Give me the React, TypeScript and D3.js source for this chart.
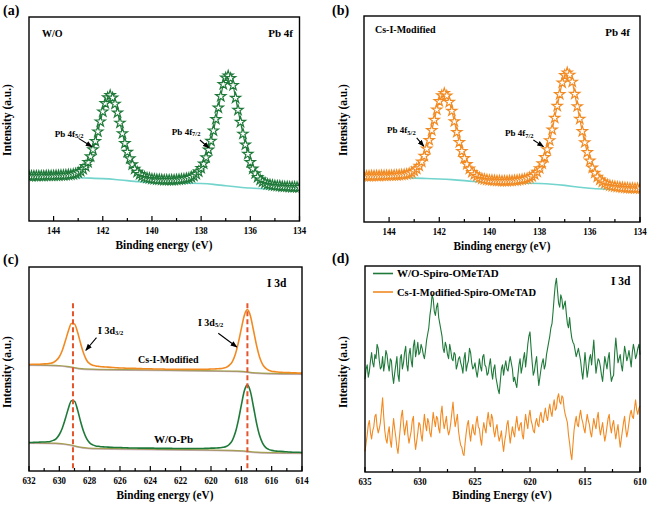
import React from "react";
import * as d3 from "d3";

// ---------------- data ----------------
// Pb 4f spectra, 145.0 -> 134.0 eV, step 0.1 eV
const pbEnergy: number[] = d3.range(111).map((i) => +(145 - i * 0.1).toFixed(1));
const pbWO: number[] = [
  22.0, 22.0, 22.1, 22.1, 22.1, 22.1, 22.1, 22.2, 22.2, 22.2, 22.2,
  22.3, 22.3, 22.4, 22.4, 22.5, 22.6, 22.7, 22.9, 23.2, 23.7,
  24.4, 25.4, 26.8, 28.8, 31.6, 35.0, 39.1, 43.8, 48.7, 53.6,
  57.7, 60.5, 61.6, 60.4, 57.4, 53.1, 48.1, 42.9, 38.1, 33.8,
  30.6, 27.7, 25.5, 24.0, 22.9, 22.1, 21.5, 21.1, 20.9, 20.6,
  20.5, 20.3, 20.3, 20.2, 20.1, 20.1, 20.1, 20.1, 20.1, 20.2,
  20.3, 20.4, 20.6, 20.8, 21.0, 21.5, 22.1, 23.0, 24.2, 25.9,
  28.1, 31.1, 34.9, 39.2, 44.3, 49.9, 55.5, 61.1, 67.0, 70.2,
  71.2, 70.0, 66.5, 60.3, 54.4, 48.5, 42.7, 37.4, 32.8, 28.8,
  25.6, 23.3, 21.5, 20.2, 19.3, 18.6, 18.0, 17.8, 17.5, 17.3,
  17.2, 17.1, 16.9, 16.8, 16.8, 16.7, 16.6, 16.6, 16.5, 16.5,
];
const pbCsI: number[] = [
  22.3, 22.3, 22.3, 22.4, 22.4, 22.4, 22.4, 22.5, 22.5, 22.5, 22.6,
  22.6, 22.7, 22.7, 22.8, 22.9, 23.0, 23.2, 23.5, 24.0, 24.8,
  25.8, 27.2, 29.2, 32.0, 35.5, 39.7, 44.5, 49.5, 54.5, 58.6,
  61.4, 62.5, 61.3, 58.2, 53.9, 48.8, 43.6, 38.7, 34.4, 30.9,
  28.0, 25.8, 24.2, 23.1, 22.3, 21.5, 21.0, 20.7, 20.5, 20.3,
  20.2, 20.1, 20.0, 20.0, 19.9, 19.9, 19.9, 20.0, 20.0, 20.1,
  20.2, 20.4, 20.6, 20.8, 21.1, 21.6, 22.2, 23.1, 24.3, 26.0,
  28.4, 31.4, 35.2, 39.6, 44.8, 50.5, 56.3, 62.0, 67.6, 71.2,
  72.5, 71.4, 68.0, 62.1, 56.1, 50.0, 44.0, 38.6, 33.8, 29.7,
  26.3, 23.8, 21.9, 20.5, 19.5, 18.7, 18.1, 17.7, 17.4, 17.2,
  17.0, 16.9, 16.7, 16.6, 16.5, 16.4, 16.4, 16.3, 16.3, 16.2,
];
const pbBgEnergy: number[] = [
  145, 144.5, 144, 143.5, 143, 142.5, 142, 141.5, 141, 140.5, 140, 139.5,
  139, 138.5, 138, 137.5, 137, 136.5, 136, 135.5, 135, 134.5, 134,
];
const pbBgWO: number[] = [
  21.6, 21.6, 21.5, 21.4, 21.2, 21.0, 20.8, 20.4, 19.8, 19.2, 18.8, 18.6,
  18.5, 18.5, 18.4, 18.0, 17.3, 16.7, 16.1, 15.8, 15.7, 15.7, 15.7,
];
const pbBgCsI: number[] = [
  21.9, 21.9, 21.8, 21.6, 21.3, 21.1, 20.9, 20.6, 20.1, 19.5, 19.1, 18.9,
  18.8, 18.8, 18.7, 18.4, 17.8, 17.0, 16.3, 16.0, 15.9, 15.8, 15.8,
];
const pbMajorTicks: number[] = [144, 142, 140, 138, 136, 134];
const pbMinorTicks: number[] = [143, 141, 139, 137, 135];

// I 3d (Pb film), 632 -> 614 eV, step 0.2 eV
const i3dEnergy: number[] = d3.range(91).map((i) => +(632 - i * 0.2).toFixed(1));
const i3dCsI: number[] = [
  52.2, 52.3, 52.3, 52.3, 52.4, 52.5, 52.6, 52.8, 53.2, 54.2,
  56.0, 59.2, 63.8, 68.8, 72.3, 72.1, 68.1, 62.6, 57.7, 54.3,
  52.6, 51.8, 51.5, 51.3, 51.1, 51.0, 50.9, 50.8, 50.7, 50.6,
  50.5, 50.5, 50.4, 50.4, 50.3, 50.3, 50.2, 50.2, 50.1, 50.1,
  50.1, 50.0, 50.0, 50.0, 50.0, 49.9, 49.9, 49.9, 49.9, 49.9,
  49.9, 49.9, 49.8, 49.9, 49.9, 49.9, 49.9, 49.9, 49.9, 49.9,
  50.0, 50.0, 50.1, 50.2, 50.4, 50.8, 51.8, 53.5, 57.1, 62.8,
  69.8, 76.4, 79.1, 76.0, 69.0, 61.7, 55.9, 52.3, 50.4, 49.4,
  48.9, 48.7, 48.5, 48.4, 48.3, 48.3, 48.2, 48.1, 48.1, 48.0,
  48.0,
];
const i3dWO: number[] = [
  14.0, 14.0, 14.1, 14.1, 14.2, 14.2, 14.3, 14.5, 15.0, 15.9,
  17.9, 21.1, 25.7, 30.8, 34.4, 34.2, 30.0, 24.3, 19.4, 15.9,
  13.8, 12.8, 12.3, 12.1, 11.9, 11.8, 11.7, 11.6, 11.5, 11.5,
  11.5, 11.4, 11.4, 11.3, 11.3, 11.3, 11.2, 11.2, 11.2, 11.2,
  11.2, 11.2, 11.1, 11.1, 11.1, 11.1, 11.1, 11.1, 11.0, 11.0,
  11.0, 11.0, 11.0, 11.0, 11.0, 11.0, 11.0, 11.0, 11.1, 11.1,
  11.2, 11.2, 11.3, 11.4, 11.6, 12.0, 13.0, 14.9, 18.7, 24.7,
  32.3, 39.3, 42.2, 38.9, 31.5, 23.6, 17.5, 13.7, 11.6, 10.6,
  10.1, 9.8, 9.7, 9.6, 9.5, 9.4, 9.3, 9.2, 9.2, 9.2,
  9.1,
];
const i3dBgEnergy: number[] = [632, 630, 629.5, 629, 628.5, 628, 624, 620, 618, 617.5, 617, 616, 614];
const i3dBgCsI: number[] = [52.0, 51.8, 51.3, 50.6, 50.0, 49.8, 49.5, 49.2, 48.9, 48.4, 48.0, 47.7, 47.6];
const i3dBgWO: number[] = [13.8, 13.6, 13.1, 12.3, 11.5, 11.0, 10.6, 10.3, 10.0, 9.5, 9.1, 8.9, 8.8];
const i3dPeaks: number[] = [629.1, 617.6];
const i3dMajorTicks: number[] = [632, 630, 628, 626, 624, 622, 620, 618, 616, 614];
const i3dMinorTicks: number[] = [631, 629, 627, 625, 623, 621, 619, 617, 615];

// I 3d (Spiro-OMeTAD), 635 -> 610 eV, step 0.1 eV
const spiroEnergy: number[] = d3.range(251).map((i) => +(635 - i * 0.1).toFixed(1));
const spiroWO: number[] = [
  45, 50, 52, 46, 49, 54, 58, 53, 51, 57, 55, 62, 60, 54, 50, 51, 56, 49, 53, 59,
  57, 52, 49, 55, 54, 47, 43, 48, 52, 56, 47, 44, 55, 57, 50, 53, 58, 61, 52, 49,
  57, 60, 54, 51, 61, 64, 56, 59, 63, 57, 58, 62, 60, 57, 55, 59, 64, 67, 70, 76,
  80, 86, 84, 78, 76, 80, 82, 75, 72, 69, 66, 60, 58, 63, 61, 57, 55, 62, 59, 55,
  54, 58, 57, 50, 52, 55, 56, 53, 51, 48, 55, 58, 49, 52, 54, 60, 58, 53, 50, 51,
  53, 49, 46, 50, 55, 51, 49, 56, 57, 52, 51, 47, 48, 52, 55, 49, 45, 50, 52, 46,
  43, 40, 38, 44, 50, 52, 47, 51, 54, 50, 49, 53, 56, 53, 50, 44, 46, 43, 41, 47,
  52, 55, 48, 51, 55, 58, 51, 56, 62, 66, 68, 60, 53, 47, 49, 53, 56, 48, 42, 46,
  50, 53, 55, 50, 52, 57, 60, 63, 66, 70, 72, 78, 85, 91, 94, 88, 82, 80, 86, 84,
  79, 81, 83, 77, 72, 70, 75, 69, 65, 63, 62, 59, 56, 58, 60, 57, 54, 49, 45, 51,
  58, 52, 46, 50, 55, 57, 52, 58, 64, 55, 48, 52, 55, 54, 51, 47, 44, 50, 56, 53,
  50, 55, 58, 49, 44, 46, 47, 58, 65, 59, 53, 55, 57, 52, 49, 55, 61, 58, 54, 56,
  59, 55, 51, 58, 62, 59, 55, 57, 60, 62, 57,
];
const spiroCsI: number[] = [
  10, 14, 18, 23, 25, 19, 16, 20, 22, 27, 28, 22, 19, 21, 24, 30, 36, 27, 20, 16,
  14, 19, 22, 15, 12, 20, 26, 21, 17, 12, 9, 15, 21, 27, 30, 23, 18, 22, 25, 18,
  14, 17, 20, 25, 27, 16, 11, 15, 19, 24, 23, 18, 15, 22, 28, 23, 20, 26, 24, 19,
  17, 23, 29, 25, 22, 27, 26, 21, 19, 28, 32, 25, 21, 24, 27, 21, 18, 20, 24, 29,
  34, 27, 22, 25, 28, 20, 16, 13, 12, 9, 8, 14, 19, 23, 25, 19, 15, 20, 23, 19,
  18, 24, 27, 22, 21, 16, 13, 20, 24, 21, 19, 25, 29, 24, 22, 28, 26, 20, 17, 21,
  23, 18, 15, 17, 20, 14, 10, 15, 18, 23, 25, 19, 14, 18, 22, 19, 17, 23, 27, 22,
  20, 23, 24, 18, 16, 23, 28, 24, 21, 27, 30, 25, 23, 20, 19, 24, 26, 23, 22, 27,
  29, 25, 24, 28, 31, 27, 25, 30, 33, 29, 27, 32, 35, 30, 31, 36, 38, 34, 33, 37,
  36, 31, 28, 26, 24, 18, 14, 9, 6, 13, 20, 24, 27, 23, 22, 27, 30, 26, 24, 21,
  19, 24, 28, 25, 23, 19, 17, 22, 26, 23, 21, 26, 29, 22, 18, 21, 24, 19, 15, 18,
  22, 26, 28, 22, 19, 23, 25, 20, 16, 20, 23, 17, 12, 16, 20, 24, 27, 21, 17, 20,
  24, 28, 30, 27, 26, 31, 35, 30, 28, 31, 32,
];
const spiroMajorTicks: number[] = [635, 630, 625, 620, 615, 610];
const spiroMinorTicks: number[] = [632.5, 627.5, 622.5, 617.5, 612.5];

// ---------------- styling ----------------
const FONT = "'Liberation Serif','Times New Roman',Times,serif";
const GREEN = "#1f7a3a";
const ORANGE = "#f28a22";
const CYAN = "#72d4cc";
const OLIVE = "#a2a24a";
const MAUVE = "#b286a8";
const RED = "#e4552c";

type TP = {
  x: number;
  y: number;
  size: number;
  sx?: number;
  anchor?: string;
  rot?: boolean;
  children: React.ReactNode;
};
function T({ x, y, size, sx = 1, anchor = "start", rot = false, children }: TP) {
  return (
    <text
      transform={`translate(${x},${y})${rot ? " rotate(-90)" : ""} scale(${sx},1)`}
      fontSize={size}
      fontWeight="bold"
      fontFamily={FONT}
      textAnchor={anchor as any}
      fill="#000"
    >
      {children}
    </text>
  );
}

function Frame({ x, y }: { x: any; y: any }) {
  const [x0, x1] = x.range();
  const [y0, y1] = y.range();
  return (
    <rect x={x0} y={y1} width={x1 - x0} height={y0 - y1} fill="none" stroke="#000" strokeWidth={1.4} />
  );
}

function XAxis({ x, y, majors, minors }: { x: any; y: any; majors: number[]; minors: number[] }) {
  const y0 = y.range()[0];
  return (
    <g>
      {majors.map((v) => (
        <line key={"M" + v} x1={x(v)} x2={x(v)} y1={y0} y2={y0 - 5} stroke="#000" strokeWidth={1.2} />
      ))}
      {minors.map((v) => (
        <line key={"m" + v} x1={x(v)} x2={x(v)} y1={y0} y2={y0 - 3} stroke="#000" strokeWidth={1.2} />
      ))}
      {majors.map((v) => (
        <T key={"L" + v} x={x(v)} y={y0 + 12.5} size={10} sx={0.88} anchor="middle">
          {String(v)}
        </T>
      ))}
    </g>
  );
}

function Arrow({ x1, y1, x2, y2 }: { x1: number; y1: number; x2: number; y2: number }) {
  return <line x1={x1} y1={y1} x2={x2} y2={y2} stroke="#000" strokeWidth={1.1} markerEnd="url(#arrowHead)" />;
}

const starD = d3.symbol(d3.symbolStar, 32)() as string;

function PbPanel({
  x, y, values, bg, color, id,
}: { x: any; y: any; values: number[]; bg: number[]; color: string; id: string }) {
  const line = d3.line<number>().x((_, i) => x(pbEnergy[i])).y((d) => y(d)).curve(d3.curveMonotoneX);
  const bgLine = d3.line<number>().x((_, i) => x(pbBgEnergy[i])).y((d) => y(d)).curve(d3.curveBasis);
  const [x0, x1] = x.range();
  const [y0, y1] = y.range();
  return (
    <g>
      <clipPath id={id}>
        <rect x={x0} y={y1} width={x1 - x0} height={y0 - y1} />
      </clipPath>
      <g clipPath={`url(#${id})`}>
        <path d={bgLine(bg) as string} fill="none" stroke={CYAN} strokeWidth={1.6} />
        <path d={line(values) as string} fill="none" stroke={color} strokeWidth={1.2} />
        {values.map((v, i) => (
          <path
            key={i}
            d={starD}
            transform={`translate(${x(pbEnergy[i])},${y(v)})`}
            fill="#ffffff"
            stroke={color}
            strokeWidth={1.2}
          />
        ))}
      </g>
    </g>
  );
}

export default function App() {
  const xa = d3.scaleLinear().domain([145, 134]).range([29, 299.5]);
  const ya = d3.scaleLinear().domain([0, 100]).range([221, 17]);
  const xb = d3.scaleLinear().domain([145, 134]).range([364, 640]);
  const yb = d3.scaleLinear().domain([0, 100]).range([222, 16]);
  const xc = d3.scaleLinear().domain([632, 614]).range([29, 302]);
  const yc = d3.scaleLinear().domain([0, 100]).range([471, 267]);
  const xd = d3.scaleLinear().domain([635, 610]).range([365, 640]);
  const yd = d3.scaleLinear().domain([0, 100]).range([472, 266]);

  const cLine = (vals: number[]) =>
    d3.line<number>().x((_, i) => xc(i3dEnergy[i])).y((d) => yc(d)).curve(d3.curveMonotoneX)(vals) as string;
  const cBg = (vals: number[]) =>
    d3.line<number>().x((_, i) => xc(i3dBgEnergy[i])).y((d) => yc(d)).curve(d3.curveBasis)(vals) as string;
  const dLine = (vals: number[]) =>
    d3.line<number>().x((_, i) => xd(spiroEnergy[i])).y((d) => yd(d))(vals) as string;

  const sub = (s: string) => (
    <tspan fontSize={6.5} dy={1.5}>
      {s}
    </tspan>
  );

  return (
    <svg
      width={650}
      height={507}
      viewBox="0 0 650 507"
      style={{ position: "absolute", left: 0, top: 0, display: "block", background: "#fff" }}
    >
      <defs>
        <marker id="arrowHead" viewBox="0 0 8 6" refX={7} refY={3} markerWidth={7} markerHeight={5.5} markerUnits="userSpaceOnUse" orient="auto">
          <path d="M0,0 L8,3 L0,6 z" fill="#000" />
        </marker>
      </defs>
      <rect x={0} y={0} width={650} height={507} fill="#fff" />

      {/* ---------- (a) ---------- */}
      <T x={3} y={15} size={14}>(a)</T>
      <PbPanel x={xa} y={ya} values={pbWO} bg={pbBgWO} color={GREEN} id="clipA" />
      <Frame x={xa} y={ya} />
      <XAxis x={xa} y={ya} majors={pbMajorTicks} minors={pbMinorTicks} />
      <T x={42} y={37} size={10}>W/O</T>
      <T x={293} y={37} size={11} anchor="end">Pb 4f</T>
      <T x={xa(143.95)} y={ya(41.2)} size={9}>Pb 4f{sub("5/2")}</T>
      <Arrow x1={xa(142.98)} y1={ya(40.5)} x2={xa(142.44)} y2={ya(36.4)} />
      <T x={xa(139.19)} y={ya(42.2)} size={9}>Pb 4f{sub("7/2")}</T>
      <Arrow x1={xa(138.05)} y1={ya(39.7)} x2={xa(137.68)} y2={ya(35.8)} />
      <T x={11} y={120} size={11.5} rot anchor="middle">Intensity (a.u.)</T>
      <T x={164} y={249} size={12} sx={0.94} anchor="middle">Binding energy (eV)</T>

      {/* ---------- (b) ---------- */}
      <T x={332} y={15} size={14}>(b)</T>
      <PbPanel x={xb} y={yb} values={pbCsI} bg={pbBgCsI} color={ORANGE} id="clipB" />
      <Frame x={xb} y={yb} />
      <XAxis x={xb} y={yb} majors={pbMajorTicks} minors={pbMinorTicks} />
      <T x={375} y={33} size={10}>Cs-I-Modified</T>
      <T x={630} y={36} size={11} anchor="end">Pb 4f</T>
      <T x={xb(144.08)} y={yb(43.2)} size={9}>Pb 4f{sub("5/2")}</T>
      <Arrow x1={xb(142.9)} y1={yb(40.8)} x2={xb(142.62)} y2={yb(36.8)} />
      <T x={xb(139.38)} y={yb(41.7)} size={9}>Pb 4f{sub("7/2")}</T>
      <Arrow x1={xb(138.25)} y1={yb(39.8)} x2={xb(137.85)} y2={yb(36.6)} />
      <T x={346.5} y={120} size={11.5} rot anchor="middle">Intensity (a.u.)</T>
      <T x={502} y={250} size={12} sx={0.94} anchor="middle">Binding energy (eV)</T>

      {/* ---------- (c) ---------- */}
      <T x={3} y={264} size={14}>(c)</T>
      <path d={cBg(i3dBgCsI)} fill="none" stroke={OLIVE} strokeWidth={1.5} />
      <path d={cBg(i3dBgCsI)} fill="none" stroke={MAUVE} strokeWidth={0.8} transform="translate(0,0.7)" opacity={0.7} />
      <path d={cBg(i3dBgWO)} fill="none" stroke={OLIVE} strokeWidth={1.5} />
      <path d={cBg(i3dBgWO)} fill="none" stroke={MAUVE} strokeWidth={0.8} transform="translate(0,0.7)" opacity={0.7} />
      <path d={cLine(i3dCsI)} fill="none" stroke={ORANGE} strokeWidth={1.6} />
      <path d={cLine(i3dWO)} fill="none" stroke={GREEN} strokeWidth={1.6} />
      {i3dPeaks.map((p) => (
        <line key={p} x1={xc(p)} x2={xc(p)} y1={yc(82.2)} y2={yc(1.3)} stroke={RED} strokeWidth={2} strokeDasharray="5,3" />
      ))}
      <Frame x={xc} y={yc} />
      <XAxis x={xc} y={yc} majors={i3dMajorTicks} minors={i3dMinorTicks} />
      <T x={267} y={287} size={11.5}>I 3d</T>
      <T x={xc(627.45)} y={yc(67.2)} size={10}>I 3d{sub("3/2")}</T>
      <Arrow x1={xc(627.55)} y1={yc(65.4)} x2={xc(628.25)} y2={yc(59.2)} />
      <T x={xc(620.86)} y={yc(71.1)} size={10}>I 3d{sub("5/2")}</T>
      <Arrow x1={xc(619.52)} y1={yc(67.5)} x2={xc(618.3)} y2={yc(60.8)} />
      <T x={xc(624.81)} y={yc(52.9)} size={10}>Cs-I-Modified</T>
      <T x={xc(623.76)} y={yc(13.7)} size={11}>W/O-Pb</T>
      <T x={11} y={372} size={11.5} rot anchor="middle">Intensity (a.u.)</T>
      <T x={165} y={499} size={12} sx={0.94} anchor="middle">Binding energy (eV)</T>

      {/* ---------- (d) ---------- */}
      <T x={332} y={263} size={14}>(d)</T>
      <path d={dLine(spiroWO)} fill="none" stroke={GREEN} strokeWidth={1.1} strokeLinejoin="round" />
      <path d={dLine(spiroCsI)} fill="none" stroke={ORANGE} strokeWidth={1.1} strokeLinejoin="round" />
      <Frame x={xd} y={yd} />
      <XAxis x={xd} y={yd} majors={spiroMajorTicks} minors={spiroMinorTicks} />
      <line x1={373} x2={393} y1={273.5} y2={273.5} stroke={GREEN} strokeWidth={1.6} />
      <T x={397} y={277} size={11}>W/O-Spiro-OMeTAD</T>
      <line x1={373} x2={393} y1={292} y2={292} stroke={ORANGE} strokeWidth={1.6} />
      <T x={397} y={295.5} size={10.5}>Cs-I-Modified-Spiro-OMeTAD</T>
      <T x={611} y={285} size={11.5}>I 3d</T>
      <T x={346.5} y={372} size={11.5} rot anchor="middle">Intensity (a.u.)</T>
      <T x={502} y={499} size={12} sx={0.94} anchor="middle">Binding Energy (eV)</T>
    </svg>
  );
}
